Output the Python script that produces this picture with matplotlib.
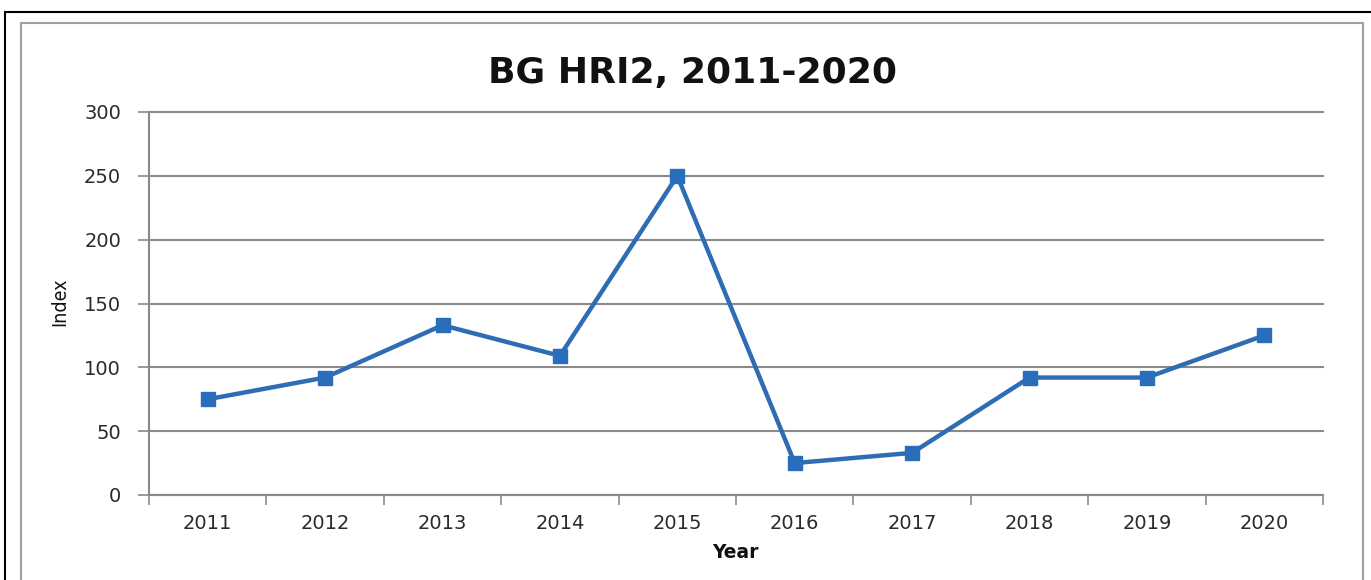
import matplotlib.pyplot as plt
from matplotlib.patches import Rectangle

years = ["2011", "2012", "2013", "2014", "2015", "2016", "2017", "2018", "2019", "2020"]
index = [75, 92, 133, 109, 250, 25, 33, 92, 92, 125]
yticks = [0, 50, 100, 150, 200, 250, 300]

W, H = 1371, 580
fig = plt.figure(figsize=(W / 100, H / 100), dpi=100)
fig.patch.set_facecolor("white")

# outer black border and inner grey frame (clipped at bottom like the reference)
fig.patches.append(Rectangle((5 / W, -0.1), 1.2, 1 - 12 / H + 0.1, transform=fig.transFigure,
                             fill=False, edgecolor="black", linewidth=1.5))
fig.patches.append(Rectangle((21 / W, -0.1), (1363 - 21) / W, 1 - 23 / H + 0.1, transform=fig.transFigure,
                             fill=False, edgecolor="#a0a0a0", linewidth=1.5))

ax = fig.add_axes([149 / W, 1 - 495 / H, (1323 - 149) / W, (495 - 112) / H])
x = list(range(len(years)))
ax.plot(x, index, color="#2e6db4", linewidth=3.2, marker="s", markersize=10,
        markerfacecolor="#2a6ebb", markeredgecolor="#2a6ebb", zorder=3)

ax.set_xlim(-0.5, len(years) - 0.5)
ax.set_ylim(0, 300)
ax.set_yticks(yticks)
ax.set_yticklabels([str(v) for v in yticks], fontsize=14, color="#2a2a2a")
ax.yaxis.grid(True, color="#8a8a8a", linewidth=1.5)
for g in ax.get_ygridlines():
    g.set_clip_on(False)
ax.set_axisbelow(True)

# category ticks between labels
ax.set_xticks([i - 0.5 for i in range(len(years) + 1)])
ax.set_xticklabels([])
ax.set_xticks(x, minor=True)
ax.set_xticklabels(years, minor=True, fontsize=14, color="#2a2a2a")
ax.tick_params(axis="x", which="minor", length=0, pad=14)
ax.tick_params(axis="x", which="major", length=7, width=1.2, color="#8a8a8a")
ax.tick_params(axis="y", length=8, width=1.2, color="#8a8a8a", pad=12)

for s in ["top", "right"]:
    ax.spines[s].set_visible(False)
for s in ["left", "bottom"]:
    ax.spines[s].set_color("#8a8a8a")
    ax.spines[s].set_linewidth(1.5)

fig.text(692 / W, 1 - 73 / H, "BG HRI2, 2011-2020", ha="center", va="center",
         fontsize=26, fontweight="bold", color="#111111")
fig.text(735 / W, 1 - 553 / H, "Year", ha="center", va="center",
         fontsize=13.5, fontweight="bold", color="#111111")
fig.text(60 / W, 1 - 302 / H, "Index", ha="center", va="center", rotation=90,
         fontsize=14, fontstretch="condensed", family="Liberation Sans Narrow",
         color="#111111")

fig.savefig("out.png", dpi=100)
